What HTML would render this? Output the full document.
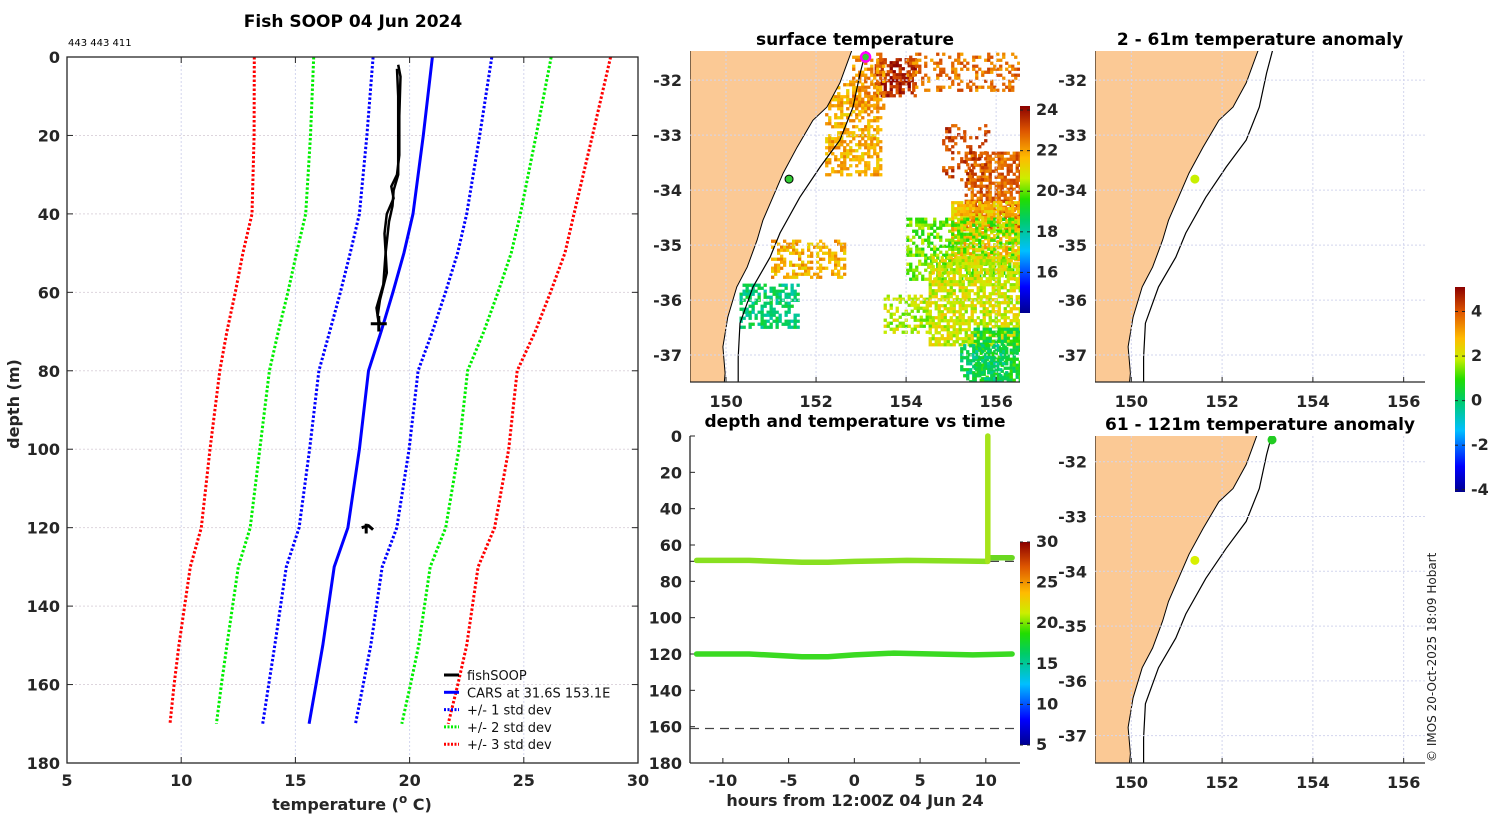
<!DOCTYPE html>
<html><head><meta charset="utf-8"><style>
html,body{margin:0;padding:0;background:#fff;}
svg{display:block;font-family:"DejaVu Sans","Liberation Sans",sans-serif;}
.tk{font-size:16px;font-weight:bold;fill:#262626;}
.tt{font-size:17px;font-weight:bold;fill:#000;}
</style></head><body>
<svg id="fig" width="1500" height="820" viewBox="0 0 1500 820" xmlns="http://www.w3.org/2000/svg">
<defs>
<clipPath id="cpSST"><rect x="690" y="51" width="330" height="331"/></clipPath>
<clipPath id="cpA1"><rect x="1095" y="51" width="330" height="331"/></clipPath>
<clipPath id="cpA2"><rect x="1095" y="436" width="330" height="327"/></clipPath>
<linearGradient id="jetV" x1="0" y1="1" x2="0" y2="0">
<stop offset="0" stop-color="#00008f"/><stop offset="0.125" stop-color="#0000ff"/><stop offset="0.3" stop-color="#00bfff"/><stop offset="0.45" stop-color="#00cc66"/><stop offset="0.55" stop-color="#22dd00"/><stop offset="0.65" stop-color="#ccee00"/><stop offset="0.75" stop-color="#ffbb00"/><stop offset="0.88" stop-color="#dd5500"/><stop offset="1" stop-color="#8b0000"/>
</linearGradient>
</defs>
<g id="main"></g>
<g id="sst"></g>
<g id="tm"></g>
<g id="a1"></g>
<g id="a2"></g>
<text x="1436" y="762" transform="rotate(-90 1436 762)" font-size="12" fill="#222">© IMOS 20-Oct-2025 18:09 Hobart</text>
</svg>
<script>
// ---------- data ----------
const depths = [0,20,40,50,60,70,80,100,120,130,150,160,170];
const carsMean = [21.0,20.6,20.15,19.75,19.27,18.75,18.2,17.8,17.3,16.7,16.2,15.9,15.6];
const carsStd = [2.6,2.47,2.35,2.35,2.3,2.25,2.17,2.18,2.14,2.1,2.1,2.07,2.03];
const fishDepth1 = [2,5,15,25,30,33,36,40,45,55,62,66,68];
const fishTemp1 = [19.5,19.6,19.55,19.55,19.45,19.2,19.3,19.0,18.9,19.0,18.7,18.6,18.7];
const fishDepth2 = [3,10,20,30,34,38,42,50,58,64,68];
const fishTemp2 = [19.45,19.5,19.5,19.5,19.3,19.25,19.1,18.95,18.85,18.55,18.65];
const xTicks = [5,10,15,20,25,30];
const yTicks = [0,20,40,60,80,100,120,140,160,180];
const tHours1 = [-12,-8,-4,-2,0,4,8,10.1];
const tDepth1 = [68.5,68.5,69.5,69.5,69,68.5,68.8,69];
const tHours1b = [10.2,12];
const tDepth1b = [67,67];
const tHours2 = [-12,-8,-4,-2,0,3,6,9,12];
const tDepth2 = [120,120,121.5,121.5,120.5,119.5,120,120.5,120];
const tVertHour = 10.15;
const tVertDepth = [0,69];
const tDash = [69,161];
const coastLon = [152.82,152.53,152.24,151.93,151.58,151.27,151.04,150.82,150.69,150.47,150.24,150.04,149.93,149.98,149.95];
const coastLat = [-31.4,-32.05,-32.49,-32.73,-33.22,-33.69,-34.13,-34.55,-34.91,-35.4,-35.76,-36.31,-36.85,-37.33,-37.6];
const isoLon = [153.13,152.98,152.82,152.53,152.09,151.64,151.2,150.98,150.6,150.31,150.27,150.27];
const isoLat = [-31.4,-31.87,-32.49,-33.09,-33.58,-34.13,-34.78,-35.22,-35.76,-36.42,-37.04,-37.6];
const patchLon0 = [152.2,153.3,154.0,155.3,155.0,151.0,150.3,154.0,154.5,152.8,153.5,155.5,154.8,155.2];
const patchLon1 = [153.4,154.2,156.5,156.5,156.5,152.6,151.6,156.5,156.5,153.5,154.5,156.5,155.8,156.2];
const patchLat0 = [-32.0,-31.6,-31.5,-33.3,-34.2,-34.9,-35.7,-34.5,-35.2,-31.5,-35.9,-36.5,-32.8,-36.8];
const patchLat1 = [-33.7,-32.3,-32.2,-34.7,-35.3,-35.6,-36.5,-35.6,-36.8,-32.5,-36.6,-37.5,-33.8,-37.5];
const patchTemp = [21.8,23.6,22.6,22.8,21.5,21.8,18.5,20.0,20.8,22.2,20.5,19.2,23.2,18.6];
const patchDens = [0.55,0.7,0.35,0.7,0.75,0.5,0.6,0.45,0.75,0.5,0.5,0.7,0.3,0.6];
const sstTicks = [16,18,20,22,24];
const tmTicks = [5,10,15,20,25,30];
const anomTicks = [-4,-2,0,2,4];
const lonTicks = [150,152,154,156];
const latTicks = [-32,-33,-34,-35,-36,-37];
const hourTicks = [-10,-5,0,5,10];
const fishSite = [151.4,-33.8];
const sstStart = [153.1,-31.58];
const a2Site = [153.1,-31.6];

// ---------- helpers ----------
const NS='http://www.w3.org/2000/svg';
function mk(parent,tag,attrs,text){const e=document.createElementNS(NS,tag);for(const k in attrs)e.setAttribute(k,attrs[k]);if(text!==undefined)e.textContent=text;parent.appendChild(e);return e;}
function jet(t){
  const st=[[0,[0,0,143]],[0.125,[0,0,255]],[0.3,[0,191,255]],[0.45,[0,204,102]],[0.55,[34,221,0]],[0.65,[204,238,0]],[0.75,[255,187,0]],[0.88,[221,85,0]],[1,[139,0,0]]];
  t=Math.max(0,Math.min(1,t));
  for(let i=1;i<st.length;i++){if(t<=st[i][0]){const a=st[i-1],b=st[i],f=(t-a[0])/(b[0]-a[0]);return 'rgb('+a[1].map((v,j)=>Math.round(v+(b[1][j]-v)*f)).join(',')+')';}}
  return 'rgb(139,0,0)';
}
function hash(i,j){let h=(i*374761393+j*668265263)>>>0;h=((h^(h>>>13))*1274126177)>>>0;return ((h^(h>>>16))>>>0)/4294967295;}

// ---------- main profile ----------
const M=document.getElementById('main');
const L=67,R=638,T=57,B=763;
const xs=v=>L+(v-5)/(30-5)*(R-L);
const ys=d=>T+d/180*(B-T);
for(const t of xTicks){
  const g=mk(M,'line',{x1:xs(t),x2:xs(t),y1:T,y2:B,stroke:'#d2d5ee','stroke-width':1,'stroke-dasharray':'2,2'});
  
  mk(M,'line',{x1:xs(t),x2:xs(t),y1:B,y2:B-6,stroke:'#262626'});
  mk(M,'line',{x1:xs(t),x2:xs(t),y1:T,y2:T+6,stroke:'#262626'});
  const tx=mk(M,'text',{x:xs(t),y:B+23,'text-anchor':'middle',class:'tk'},t);
  
}
for(const d of yTicks){
  const g=mk(M,'line',{x1:L,x2:R,y1:ys(d),y2:ys(d),stroke:'#ddd5dd','stroke-width':1,'stroke-dasharray':'2,2'});
  
  mk(M,'line',{x1:L,x2:L+6,y1:ys(d),y2:ys(d),stroke:'#262626'});
  mk(M,'line',{x1:R,x2:R-6,y1:ys(d),y2:ys(d),stroke:'#262626'});
  const tx=mk(M,'text',{x:L-7,y:ys(d)+6,'text-anchor':'end',class:'tk'},d);
  
}
function pathOf(xv,dv){return dv.map((d,i)=>(i?'L':'M')+xs(xv[i]).toFixed(1)+','+ys(d).toFixed(1)).join('');}
const stdCols=['#0000ff','#00ee00','#ff0000'];
for(let k=1;k<=3;k++){
  for(const s of [-1,1]){
    const p=mk(M,'path',{d:pathOf(carsMean.map((m,i)=>m+s*k*carsStd[i]),depths),fill:'none',stroke:stdCols[k-1],'stroke-width':3,'stroke-dasharray':'2.5,2'});
    
    
  }
}
const cm=mk(M,'path',{d:pathOf(carsMean,depths),fill:'none',stroke:'#0000ff','stroke-width':3});

const f1=mk(M,'path',{d:pathOf(fishTemp1,fishDepth1),fill:'none',stroke:'#000','stroke-width':2.5});

const f2=mk(M,'path',{d:pathOf(fishTemp2,fishDepth2),fill:'none',stroke:'#000','stroke-width':2.5});

mk(M,'path',{d:`M${xs(18.3)},${ys(68)}L${xs(19.0)},${ys(68)}M${xs(18.65)},${ys(66)}L${xs(18.65)},${ys(70)}`,stroke:'#000','stroke-width':3});
const cl=mk(M,'path',{d:`M${xs(17.9)},${ys(120)}L${xs(18.2)},${ys(119.5)}L${xs(18.4)},${ys(120.5)}M${xs(18.1)},${ys(119)}L${xs(18.1)},${ys(121.5)}`,stroke:'#000','stroke-width':3,fill:'none'});

mk(M,'rect',{x:L,y:T,width:R-L,height:B-T,fill:'none',stroke:'#262626','stroke-width':1.3});
const t1=mk(M,'text',{x:353,y:27,'text-anchor':'middle',class:'tt','font-size':18},'Fish SOOP 04 Jun 2024');
const t2=mk(M,'text',{x:68,y:46,'font-size':10,fill:'#000'},'443 443 411');
const xl=mk(M,'text',{x:352,y:810,'text-anchor':'middle',class:'tk','font-size':18},'');
xl.innerHTML='temperature (<tspan dy="-7" font-size="12">o</tspan><tspan dy="7"> C)</tspan>';

const yl=mk(M,'text',{x:19,y:404,'text-anchor':'middle',class:'tk','font-size':18,transform:'rotate(-90 19 404)'},'depth (m)');

const leg=mk(M,'g',{});
const legItems=[['fishSOOP','#000',''],['CARS at 31.6S 153.1E','#0000ff',''],['+/- 1 std dev','#0000ff','2,1.5'],['+/- 2 std dev','#00ee00','2,1.5'],['+/- 3 std dev','#ff0000','2,1.5']];
legItems.forEach((it,i)=>{
  const y=675+i*17.3;
  const g=mk(leg,'g',{});
  mk(g,'line',{x1:444,x2:459,y1:y,y2:y,stroke:it[1],'stroke-width':3,'stroke-dasharray':it[2]||'none'});
  mk(g,'text',{x:467,y:y+5,'font-size':13,fill:'#111'},it[0]);
});

// ---------- map helpers ----------
function mapAxes(G,x0,y0,w,h,lonMin,lonMax,latMax,latMin,clip,title,titleX,showLon){
  const lx=v=>x0+(v-lonMin)/(lonMax-lonMin)*w;
  const ly=v=>y0+(latMax-v)/(latMax-latMin)*h;
  const cg=mk(G,'g',{'clip-path':'url(#'+clip+')'});
  mk(cg,'rect',{x:x0,y:y0,width:w,height:h,fill:'#fff'});
  return {lx,ly,cg,finish:function(){
    for(const t of lonTicks){mk(G,'line',{x1:lx(t),x2:lx(t),y1:y0,y2:y0+h,stroke:'#d2d5ee','stroke-dasharray':'2,2'});
      mk(G,'line',{x1:lx(t),x2:lx(t),y1:y0+h,y2:y0+h-5,stroke:'#262626'});
      if(showLon){const tx=mk(G,'text',{x:lx(t),y:y0+h+25,'text-anchor':'middle',class:'tk'},t);}}
    for(const t of latTicks){mk(G,'line',{x1:x0,x2:x0+w,y1:ly(t),y2:ly(t),stroke:'#d2d5ee','stroke-dasharray':'2,2'});
      const tx=mk(G,'text',{x:x0-8,y:ly(t)+6,'text-anchor':'end',class:'tk'},t);}
    mk(G,'line',{x1:x0,x2:x0+w,y1:y0+h,y2:y0+h,stroke:'#262626','stroke-width':1.3});
    const tt=mk(G,'text',{x:titleX,y:y0-6,'text-anchor':'middle',class:'tt'},title);
  }};
}
function drawCoast(m,cg,x0,y0,h){
  let d='M'+x0+','+(y0-5);
  coastLon.forEach((v,i)=>{d+='L'+m.lx(v).toFixed(1)+','+m.ly(coastLat[i]).toFixed(1);});
  d+='L'+x0+','+(y0+h+5)+'Z';
  const land=mk(cg,'path',{d:d,fill:'#fbc995',stroke:'#000','stroke-width':1});
  
  const iso=mk(cg,'path',{d:isoLon.map((v,i)=>(i?'L':'M')+m.lx(v).toFixed(1)+','+m.ly(isoLat[i]).toFixed(1)).join(''),fill:'none',stroke:'#000','stroke-width':1.2});
  
}
function colorbar(G,x,y0,y1,vmin,vmax,ticks){
  mk(G,'rect',{x:x,y:y0,width:10,height:y1-y0,fill:'url(#jetV)'});
  for(const t of ticks){const y=y1-(t-vmin)/(vmax-vmin)*(y1-y0);
    mk(G,'line',{x1:x,x2:x+3,y1:y,y2:y,stroke:'#222'});mk(G,'line',{x1:x+7,x2:x+10,y1:y,y2:y,stroke:'#222'});
    const tx=mk(G,'text',{x:x+16,y:y+5,class:'tk','font-size':14},t);}
}

// ---------- SST map ----------
const S=document.getElementById('sst');
const sm=mapAxes(S,690,51,330,331,149.2,156.53,-31.47,-37.49,'cpSST','surface temperature',855,true);
const cell=3;
patchTemp.forEach((tp,k)=>{
  const xa=sm.lx(patchLon0[k]),xb=sm.lx(patchLon1[k]),ya=sm.ly(patchLat0[k]),yb=sm.ly(patchLat1[k]);
  const g=mk(sm.cg,'g',{});
  for(let x=xa;x<xb;x+=cell){for(let y=ya;y<yb;y+=cell){
    const hv=hash(Math.round(x/cell)+k*1000,Math.round(y/cell));
    if(hv<patchDens[k]){const tv=tp+(hash(Math.round(y),Math.round(x))-0.5)*1.4;
      mk(g,'rect',{x:x.toFixed(1),y:y.toFixed(1),width:cell+0.3,height:cell+0.3,fill:jet((tv-14)/(24.2-14))});}
  }}
});
drawCoast(sm,sm.cg,690,51,331);
mk(sm.cg,'circle',{cx:sm.lx(sstStart[0]),cy:sm.ly(sstStart[1]),r:4.5,fill:'#33cc33',stroke:'#ff00ff','stroke-width':2.5});
mk(sm.cg,'circle',{cx:sm.lx(fishSite[0]),cy:sm.ly(fishSite[1]),r:4,fill:'#33cc33',stroke:'#000','stroke-width':1});
sm.finish();
colorbar(S,1020,106,313,14,24.2,sstTicks);

// ---------- depth vs time ----------
const TM=document.getElementById('tm');
const tl=690,tr=1020,tt0=436,tb=763;
const hx=h=>tl+(h+12.5)/(25.1)*(tr-tl);
const dy=d=>tt0+d/180*(tb-tt0);
for(const t of hourTicks){mk(TM,'line',{x1:hx(t),x2:hx(t),y1:tb,y2:tb-5,stroke:'#262626'});
  const tx=mk(TM,'text',{x:hx(t),y:tb+23,'text-anchor':'middle',class:'tk'},t);}
for(const d of yTicks){mk(TM,'line',{x1:tl,x2:tl+5,y1:dy(d),y2:dy(d),stroke:'#262626'});
  const tx=mk(TM,'text',{x:tl-8,y:dy(d)+6,'text-anchor':'end',class:'tk'},d);}
for(const d of tDash){const l=mk(TM,'line',{x1:tl,x2:tr,y1:dy(d),y2:dy(d),stroke:'#444','stroke-width':1.3,'stroke-dasharray':'9,6'});}
function tpath(hs,ds){return hs.map((h,i)=>(i?'L':'M')+hx(h).toFixed(1)+','+dy(ds[i]).toFixed(1)).join('');}
const u1=mk(TM,'path',{d:tpath(tHours1,tDepth1),fill:'none',stroke:'#88e020','stroke-width':5.5,'stroke-linecap':'round'});
const u2=mk(TM,'path',{d:tpath(tHours1b,tDepth1b),fill:'none',stroke:'#6ad820','stroke-width':5.5,'stroke-linecap':'round'});
const uv=mk(TM,'path',{d:tpath([tVertHour,tVertHour],tVertDepth),fill:'none',stroke:'#a6e41a','stroke-width':5.5,'stroke-linecap':'round'});
const lw=mk(TM,'path',{d:tpath(tHours2,tDepth2),fill:'none',stroke:'#3ada22','stroke-width':5.5,'stroke-linecap':'round'});
mk(TM,'line',{x1:tl,x2:tl,y1:tt0,y2:tb,stroke:'#262626','stroke-width':1.3});
mk(TM,'line',{x1:tl,x2:tr,y1:tb,y2:tb,stroke:'#262626','stroke-width':1.3});
const tmt=mk(TM,'text',{x:855,y:427,'text-anchor':'middle',class:'tt'},'depth and temperature vs time');
const txl=mk(TM,'text',{x:855,y:806,'text-anchor':'middle',class:'tk','font-size':17},'hours from 12:00Z 04 Jun 24');
colorbar(TM,1020,542,745,5,30,tmTicks);

// ---------- anomaly maps ----------
const A1=document.getElementById('a1');
const m1=mapAxes(A1,1095,51,330,331,149.2,156.47,-31.47,-37.49,'cpA1','2 - 61m temperature anomaly',1260,true);
drawCoast(m1,m1.cg,1095,51,331);
mk(m1.cg,'circle',{cx:m1.lx(fishSite[0]),cy:m1.ly(fishSite[1]),r:4.5,fill:'#c8f000'});
m1.finish();
const A2=document.getElementById('a2');
const m2=mapAxes(A2,1095,436,330,327,149.2,156.47,-31.53,-37.5,'cpA2','61 - 121m temperature anomaly',1260,true);
drawCoast(m2,m2.cg,1095,436,327);
mk(m2.cg,'circle',{cx:m2.lx(fishSite[0]),cy:m2.ly(fishSite[1]),r:4.5,fill:'#d8f000'});
mk(m2.cg,'circle',{cx:m2.lx(a2Site[0]),cy:m2.ly(a2Site[1]),r:4.5,fill:'#22cc22'});
m2.finish();
colorbar(A1,1455,287,492,-4.1,5.1,anomTicks);
</script>
</body></html>
